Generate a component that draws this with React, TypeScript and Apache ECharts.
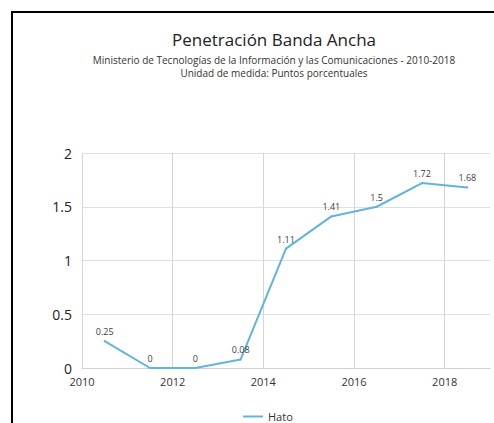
import React, { useEffect, useRef } from "react";
import * as echarts from "echarts";

const titleText = "Penetración Banda Ancha";
const subtitleLines = [
  "Ministerio de Tecnologías de la Información y las Comunicaciones - 2010-2018",
  "Unidad de medida: Puntos porcentuales",
];
const seriesName = "Hato";
const periods = [2010.5, 2011.5, 2012.5, 2013.5, 2014.5, 2015.5, 2016.5, 2017.5, 2018.5];
const values = [0.25, 0, 0, 0.08, 1.11, 1.41, 1.5, 1.72, 1.68];

const FONT = "'Open Sans', 'Noto Sans', sans-serif";
const LINE_COLOR = "#62b4dd";

export default function App() {
  const ref = useRef<HTMLDivElement>(null);
  useEffect(() => {
    if (!ref.current) return;
    const chart = echarts.init(ref.current, null, { renderer: "svg" });
    chart.setOption({
      animation: false,
      backgroundColor: "#fff",
      textStyle: { fontFamily: FONT },
      graphic: [
        {
          type: "rect",
          z: -10,
          silent: true,
          shape: { x: 12, y: 12, width: 600, height: 600 },
          style: { fill: "none", stroke: "#000", lineWidth: 2 },
        },
      ],
      title: {
        text: titleText,
        subtext: subtitleLines.join("\n"),
        left: 269,
        top: 26,
        textAlign: "center",
        itemGap: 5,
        textStyle: { fontSize: 17, fontWeight: "normal", color: "#222", fontFamily: FONT },
        subtextStyle: { fontSize: 10, color: "#333", lineHeight: 13, fontFamily: FONT },
      },
      legend: {
        top: 406,
        left: 238,
        padding: 5,
        itemWidth: 20,
        itemHeight: 10,
        itemGap: 4,
        icon: "path://M0,4 L20,4 L20,6 L0,6 Z",
        itemStyle: { color: LINE_COLOR, opacity: 1 },
        textStyle: { fontSize: 11, color: "#333", fontFamily: FONT },
        data: [seriesName],
      },
      grid: { left: 82, right: 4, top: 153, bottom: 55, containLabel: false },
      xAxis: {
        type: "value",
        min: 2010,
        max: 2019,
        interval: 2,
        axisLine: { show: true, lineStyle: { color: "#d0d0d0" } },
        axisTick: { show: false },
        axisLabel: {
          showMaxLabel: false,
          fontSize: 11,
          color: "#333",
          margin: 8,
          fontFamily: FONT,
          formatter: (v: number) => String(v),
        },
        splitLine: { show: true, showMaxLine: false, lineStyle: { color: "#d6d6d6" } },
      },
      yAxis: {
        type: "value",
        min: 0,
        max: 2,
        interval: 0.5,
        axisLine: { show: false },
        axisTick: { show: false },
        axisLabel: { fontSize: 14, color: "#222", margin: 10, fontFamily: FONT },
        splitLine: { show: true, lineStyle: { color: "#e0e0e0" } },
      },
      series: [
        {
          name: seriesName,
          type: "line",
          data: periods.map((p, i) => [p, values[i]]),
          showSymbol: true,
          symbol: "circle",
          symbolSize: 2,
          lineStyle: { color: LINE_COLOR, width: 2 },
          itemStyle: { color: LINE_COLOR },
          label: {
            show: true,
            position: "top",
            distance: 4,
            fontSize: 9,
            color: "#404040",
            fontFamily: FONT,
            formatter: (p: any) => String(p.value[1]),
          },
        },
      ],
    });
    return () => chart.dispose();
  }, []);
  return (
    <div
      ref={ref}
      style={{ position: "fixed", left: 0, top: 0, width: 494, height: 423 }}
    />
  );
}
